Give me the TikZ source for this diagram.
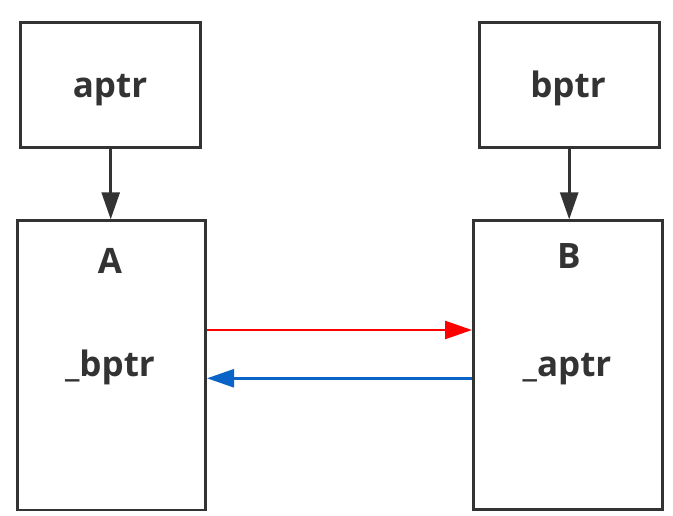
\documentclass[tikz,border=0pt]{standalone}
\usepackage{fontspec}
\setmainfont{Open Sans}
\usetikzlibrary{arrows.meta}
\definecolor{ink}{HTML}{333333}
\definecolor{redline}{HTML}{FF0000}
\definecolor{blueline}{HTML}{0A64C8}
\begin{document}
\begin{tikzpicture}[x=1pt,y=-1pt,
  box/.style={draw=ink,line width=2.6pt,fill=white,inner sep=0pt},
  lbl/.style={anchor=base,text=ink,font=\fontsize{35}{40}\selectfont\bfseries},
  conn/.style={line width=2.6pt,-{Triangle[length=27pt,width=18pt]}}]
\useasboundingbox (0,0) rectangle (673,516);
\node[box,minimum width=180pt,minimum height=125pt] (ap) at (110.7,84.8) {};
\node[box,minimum width=180pt,minimum height=125pt] (bp) at (569.2,84.8) {};
\node[box,minimum width=188.4pt,minimum height=289.3pt] (A) at (111.5,365.3) {};
\node[box,minimum width=189.4pt,minimum height=288.6pt] (B) at (568,365) {};
\node[lbl] (tap) at (110,97.7) {aptr};
\node[lbl] (tbp) at (568,97.7) {bptr};
\node[lbl] (tA) at (110,274) {A};
\node[lbl] (tbA) at (110,376.7) {\_bptr};
\node[lbl] (tB) at (569,268.3) {B};
\node[lbl] (taB) at (567,376.7) {\_aptr};
\draw[conn,draw=ink,fill=ink] (ap.south) -- (A.north -| ap.south);
\draw[conn,draw=ink,fill=ink] (bp.south) -- (B.north -| bp.south);
\coordinate (r1) at (A.east |- 0,330);
\coordinate (r2) at (B.west |- 0,330);
\coordinate (b1) at (B.west |- 0,378.3);
\coordinate (b2) at (A.east |- 0,378.3);
\draw[conn,draw=redline,fill=redline] (r1) -- (r2);
\draw[conn,draw=blueline,fill=blueline] (b1) -- (b2);
\end{tikzpicture}
\end{document}
